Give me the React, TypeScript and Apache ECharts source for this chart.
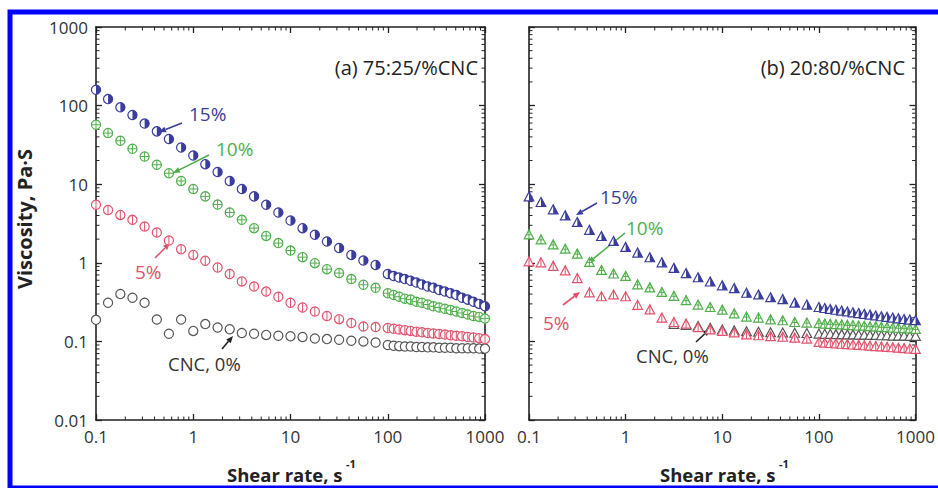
import React, { useEffect, useRef } from 'react';
import * as echarts from 'echarts';

// Shear rate (s^-1): 8 points per decade up to 100, then a denser sweep to 1000
const shearRate = [
  0.1, 0.133, 0.178, 0.237, 0.316, 0.422, 0.562, 0.75,
  1, 1.33, 1.78, 2.37, 3.16, 4.22, 5.62, 7.5,
  10, 13.3, 17.8, 23.7, 31.6, 42.2, 56.2, 75,
  100, 115, 131, 150, 172, 197, 225, 258, 295, 338, 387, 443, 507, 581, 665, 761, 872, 1000,
];

// (a) 75:25 / %CNC  (viscosity, Pa·s)
const a15 = [
  159, 121, 95, 76, 59, 47, 37.5, 29.3, 23.2, 18, 14.3, 11, 8.7, 7.0, 5.47, 4.37, 3.45, 2.76, 2.27, 1.87, 1.54, 1.26, 1.07, 0.94, 0.72,
  0.68, 0.65, 0.62, 0.59, 0.56, 0.53, 0.5, 0.48, 0.45, 0.43, 0.41, 0.39, 0.36, 0.34, 0.32, 0.3, 0.28,
];
const a10 = [
  57, 44.7, 35.7, 28.2, 22.5, 17.7, 13.8, 11.0, 8.7, 7.0, 5.5, 4.37, 3.52, 2.76, 2.2, 1.78, 1.43, 1.18, 0.99, 0.83, 0.74, 0.62, 0.525, 0.48, 0.41,
  0.39, 0.37, 0.35, 0.34, 0.32, 0.31, 0.295, 0.28, 0.27, 0.26, 0.25, 0.24, 0.23, 0.22, 0.21, 0.205, 0.195,
];
const a5 = [
  5.47, 4.7, 4.07, 3.52, 2.9, 2.43, 1.92, 1.49, 1.26, 1.06, 0.87, 0.72, 0.58, 0.5, 0.43, 0.37, 0.31, 0.27, 0.24, 0.21, 0.192, 0.171, 0.155, 0.152, 0.148,
  0.145, 0.142, 0.139, 0.136, 0.133, 0.131, 0.128, 0.126, 0.124, 0.122, 0.12, 0.118, 0.116, 0.114, 0.112, 0.11, 0.107,
];
const a0 = [
  0.188, 0.31, 0.4, 0.36, 0.31, 0.19, 0.125, 0.19, 0.136, 0.166, 0.15, 0.143, 0.128, 0.125, 0.121, 0.118, 0.116, 0.114, 0.109, 0.107, 0.105, 0.102, 0.1, 0.097, 0.09,
  0.088, 0.087, 0.086, 0.086, 0.085, 0.085, 0.084, 0.084, 0.083, 0.083, 0.083, 0.082, 0.082, 0.082, 0.082, 0.081, 0.081,
];

// (b) 20:80 / %CNC
const b15 = [
  6.9, 5.85, 4.72, 3.96, 3.26, 2.59, 2.16, 1.87, 1.57, 1.33, 1.16, 1.0, 0.85, 0.73, 0.645, 0.57, 0.51, 0.47, 0.41, 0.39, 0.36, 0.34, 0.307, 0.29, 0.27,
  0.262, 0.255, 0.249, 0.243, 0.237, 0.231, 0.226, 0.221, 0.216, 0.211, 0.206, 0.202, 0.198, 0.194, 0.19, 0.187, 0.184,
];
const b10 = [
  2.27, 1.96, 1.69, 1.49, 1.29, 1.01, 0.8, 0.72, 0.67, 0.525, 0.48, 0.42, 0.375, 0.33, 0.29, 0.27, 0.25, 0.224, 0.204, 0.198, 0.188, 0.183, 0.174, 0.171, 0.168,
  0.166, 0.165, 0.163, 0.162, 0.16, 0.159, 0.157, 0.156, 0.154, 0.153, 0.151, 0.15, 0.148, 0.147, 0.145, 0.144, 0.142,
];
const b5 = [
  1.03, 1.0, 0.9, 0.79, 0.63, 0.415, 0.37, 0.39, 0.37, 0.288, 0.252, 0.198, 0.174, 0.166, 0.15, 0.14, 0.134, 0.128, 0.121, 0.118, 0.115, 0.113, 0.11, 0.107, 0.097,
  0.095, 0.094, 0.093, 0.092, 0.091, 0.09, 0.089, 0.088, 0.087, 0.086, 0.085, 0.084, 0.083, 0.082, 0.081, 0.08, 0.079,
];
const b0: (number | null)[] = [
  null, null, null, null, null, null, null, null, null, null, null, null, 0.165, 0.16, 0.155, 0.147, 0.14, 0.136, 0.133, 0.131, 0.129, 0.128, 0.127, 0.126, 0.124,
  0.123, 0.123, 0.122, 0.122, 0.121, 0.121, 0.12, 0.12, 0.119, 0.119, 0.118, 0.118, 0.117, 0.117, 0.117, 0.116, 0.116,
];

const xTickLabels = ['0.1', '1', '10', '100', '1000'];
const yTickLabels = ['0.01', '0.1', '1', '10', '100', '1000'];

const BLUE = '#3a3d9c';
const GREEN = '#4fb04a';
const RED = '#e2526c';
const GRAY = '#555555';
const FONT = '"Open Sans", "Noto Sans", sans-serif';

const X_MIN = 0.1, X_MAX = 1000, Y_MIN = 0.01, Y_MAX = 1000;

function pairs(ys: (number | null)[]) {
  const out: number[][] = [];
  ys.forEach((y, i) => { if (y != null) out.push([shearRate[i], y]); });
  return out;
}

function circleMarker(kind: string, color: string) {
  return (_p: any, api: any) => {
    const pt = api.coord([api.value(0), api.value(1)]);
    const cx = pt[0], cy = pt[1], r = 4.6;
    const ch: any[] = [
      { type: 'circle', shape: { cx, cy, r }, style: { fill: '#fff', stroke: color, lineWidth: 1.2 } },
    ];
    if (kind === 'half') ch.push({ type: 'sector', shape: { cx, cy, r0: 0, r, startAngle: -Math.PI / 2, endAngle: Math.PI / 2 }, style: { fill: color } });
    if (kind === 'plus' || kind === 'bar') ch.push({ type: 'line', shape: { x1: cx, y1: cy - r, x2: cx, y2: cy + r }, style: { stroke: color, lineWidth: 1 } });
    if (kind === 'plus') ch.push({ type: 'line', shape: { x1: cx - r, y1: cy, x2: cx + r, y2: cy }, style: { stroke: color, lineWidth: 1 } });
    return { type: 'group', children: ch };
  };
}

function triMarker(kind: string, color: string) {
  return (_p: any, api: any) => {
    const pt = api.coord([api.value(0), api.value(1)]);
    const cx = pt[0], cy = pt[1], w = 4.8, ht = 5, hb = 4;
    const ch: any[] = [
      { type: 'polygon', shape: { points: [[cx, cy - ht], [cx - w, cy + hb], [cx + w, cy + hb]] }, style: { fill: '#fff', stroke: color, lineWidth: 1.2 } },
    ];
    if (kind === 'half') ch.push({ type: 'polygon', shape: { points: [[cx, cy - ht], [cx + w, cy + hb], [cx, cy + hb]] }, style: { fill: color } });
    if (kind === 'plus' || kind === 'bar') ch.push({ type: 'line', shape: { x1: cx, y1: cy - ht, x2: cx, y2: cy + hb }, style: { stroke: color, lineWidth: 1 } });
    if (kind === 'plus') ch.push({ type: 'line', shape: { x1: cx - 2.8, y1: cy, x2: cx + 2.8, y2: cy }, style: { stroke: color, lineWidth: 1 } });
    return { type: 'group', children: ch };
  };
}

function minorValues(lo: number, hi: number) {
  const out: number[] = [];
  for (let d = lo; d < hi - 1e-12; d *= 10) {
    for (let k = 2; k <= 9; k++) out.push(+(d * k).toPrecision(3));
  }
  return out;
}

function arrow(x1: number, y1: number, x2: number, y2: number, color: string) {
  const ang = Math.atan2(y2 - y1, x2 - x1);
  const L = 7, W = 3;
  const bx = x2 - L * Math.cos(ang), by = y2 - L * Math.sin(ang);
  const px = -Math.sin(ang) * W, py = Math.cos(ang) * W;
  return [
    { type: 'line', silent: true, shape: { x1, y1, x2: bx, y2: by }, style: { stroke: color, lineWidth: 1.6 } },
    { type: 'polygon', silent: true, shape: { points: [[x2, y2], [bx + px, by + py], [bx - px, by - py]] }, style: { fill: color } },
  ];
}

function label(text: string, x: number, y: number, color: string, size: number, extra: any = {}) {
  const { align, weight, ...rest } = extra;
  return {
    type: 'text', x, y, silent: true, ...rest,
    style: { text, fill: color, fontSize: size, fontFamily: FONT, textAlign: align || 'left', textVerticalAlign: 'middle', verticalAlign: 'middle', fontWeight: weight || 'normal' },
  };
}

export default function App() {
  const ref = useRef<HTMLDivElement>(null);
  useEffect(() => {
    if (!ref.current) return;
    const chart = echarts.init(ref.current, undefined, { renderer: 'svg' });
    const grids = [
      { left: 96, top: 27, width: 389, height: 393 },
      { left: 529, top: 27, width: 389, height: 393 },
    ];
    const axisLine = { show: true, onZero: false, lineStyle: { color: '#222', width: 1.6 } };
    const tick = { show: true, inside: true, length: 6, lineStyle: { color: '#222', width: 1.3 } };
    const xFmt = (v: number) => xTickLabels[Math.round(Math.log10(v)) + 1] || '';
    const yFmt = (v: number) => yTickLabels[Math.round(Math.log10(v)) + 2] || '';
    const xAxes: any[] = [];
    const yAxes: any[] = [];
    [0, 1].forEach((g) => {
      xAxes.push({
        type: 'log', gridIndex: g, position: 'bottom', min: X_MIN, max: X_MAX, interval: 1,
        axisLine, axisTick: tick, splitLine: { show: false },
        axisLabel: { show: true, formatter: xFmt, margin: 8, fontSize: 17, color: '#333', fontFamily: FONT },
      });
      xAxes.push({
        type: 'log', gridIndex: g, position: 'top', min: X_MIN, max: X_MAX, interval: 1,
        axisLine, axisTick: tick, splitLine: { show: false }, axisLabel: { show: false },
      });
      yAxes.push({
        type: 'log', gridIndex: g, position: 'left', min: Y_MIN, max: Y_MAX, interval: 1,
        axisLine, axisTick: tick, splitLine: { show: false },
        axisLabel: { show: g === 0, formatter: yFmt, margin: 8, fontSize: 17, color: '#333', fontFamily: FONT },
      });
      yAxes.push({
        type: 'log', gridIndex: g, position: 'right', min: Y_MIN, max: Y_MAX, interval: 1,
        axisLine, axisTick: tick, splitLine: { show: false }, axisLabel: { show: false },
      });
    });

    const xMinor = minorValues(0.1, 1000);
    const yMinor = minorValues(0.01, 1000);
    const minorSeries: any[] = [];
    [0, 1].forEach((g) => {
      minorSeries.push({
        type: 'custom', xAxisIndex: g * 2, yAxisIndex: g * 2, silent: true, clip: false,
        data: xMinor.map((v) => [v, 1]),
        renderItem: (_p: any, api: any) => {
          const b = api.coord([api.value(0), Y_MIN]);
          const t = api.coord([api.value(0), Y_MAX]);
          return {
            type: 'group', children: [
              { type: 'line', shape: { x1: b[0], y1: b[1], x2: b[0], y2: b[1] - 3.5 }, style: { stroke: '#222', lineWidth: 1 } },
              { type: 'line', shape: { x1: t[0], y1: t[1], x2: t[0], y2: t[1] + 3.5 }, style: { stroke: '#222', lineWidth: 1 } },
            ],
          };
        },
      });
      minorSeries.push({
        type: 'custom', xAxisIndex: g * 2, yAxisIndex: g * 2, silent: true, clip: false,
        data: yMinor.map((v) => [1, v]),
        renderItem: (_p: any, api: any) => {
          const l = api.coord([X_MIN, api.value(1)]);
          const r = api.coord([X_MAX, api.value(1)]);
          return {
            type: 'group', children: [
              { type: 'line', shape: { x1: l[0], y1: l[1], x2: l[0] + 3.5, y2: l[1] }, style: { stroke: '#222', lineWidth: 1 } },
              { type: 'line', shape: { x1: r[0], y1: r[1], x2: r[0] - 3.5, y2: r[1] }, style: { stroke: '#222', lineWidth: 1 } },
            ],
          };
        },
      });
    });

    const mk = (data: (number | null)[], g: number, render: any, name: string) => ({
      type: 'custom', name, xAxisIndex: g * 2, yAxisIndex: g * 2, silent: true,
      data: pairs(data), encode: { x: 0, y: 1 }, renderItem: render,
    });

    const series = [
      ...minorSeries,
      mk(a0, 0, circleMarker('open', GRAY), 'a CNC 0%'),
      mk(a5, 0, circleMarker('bar', RED), 'a 5%'),
      mk(a10, 0, circleMarker('plus', GREEN), 'a 10%'),
      mk(a15, 0, circleMarker('half', BLUE), 'a 15%'),
      mk(b0, 1, triMarker('open', GRAY), 'b CNC 0%'),
      mk(b5, 1, triMarker('bar', RED), 'b 5%'),
      mk(b10, 1, triMarker('plus', GREEN), 'b 10%'),
      mk(b15, 1, triMarker('half', BLUE), 'b 15%'),
    ];

    const graphic: any[] = [
      { type: 'rect', silent: true, shape: { x: 10, y: 12, width: 935, height: 476 }, style: { fill: 'none', stroke: '#0000ff', lineWidth: 5 }, z: 100 },
      label('Viscosity, Pa·S', 24, 219, '#222', 20, { align: 'center', weight: 'bold', rotation: Math.PI / 2 }),
      label('Shear rate, s', 227, 474, '#222', 18.5, { align: 'left', weight: 'bold' }),
      label('-1', 346, 463, '#222', 11, { align: 'left', weight: 'bold' }),
      label('Shear rate, s', 660, 474, '#222', 18.5, { align: 'left', weight: 'bold' }),
      label('-1', 779, 463, '#222', 11, { align: 'left', weight: 'bold' }),
      label('(a) 75:25/%CNC', 478, 67, '#222', 20, { align: 'right' }),
      label('(b) 20:80/%CNC', 905, 67, '#222', 20, { align: 'right' }),
      label('15%', 189, 114, BLUE, 19),
      label('10%', 216, 149, GREEN, 19),
      label('5%', 135, 272, RED, 19),
      label('CNC, 0%', 168, 363, '#333', 18.5),
      label('15%', 600, 197, BLUE, 19),
      label('10%', 626, 228, GREEN, 19),
      label('5%', 543, 323, RED, 19),
      label('CNC, 0%', 636, 355, '#333', 18.5),
      ...arrow(182, 123, 159, 132, BLUE),
      ...arrow(209, 155, 173, 173, GREEN),
      ...arrow(155, 258, 170, 243, RED),
      ...arrow(222, 349, 233, 336, '#222'),
      ...arrow(597, 203, 576, 215, BLUE),
      ...arrow(625, 233, 588, 263, GREEN),
      ...arrow(563, 305, 580, 292, RED),
      ...arrow(696, 342, 710, 329, '#222'),
    ];

    chart.setOption({
      animation: false,
      backgroundColor: '#ffffff',
      grid: grids,
      xAxis: xAxes,
      yAxis: yAxes,
      series,
      graphic,
    });
    return () => chart.dispose();
  }, []);
  return <div ref={ref} style={{ position: 'fixed', left: 0, top: 0, width: 938, height: 488, background: '#fff' }} />;
}
